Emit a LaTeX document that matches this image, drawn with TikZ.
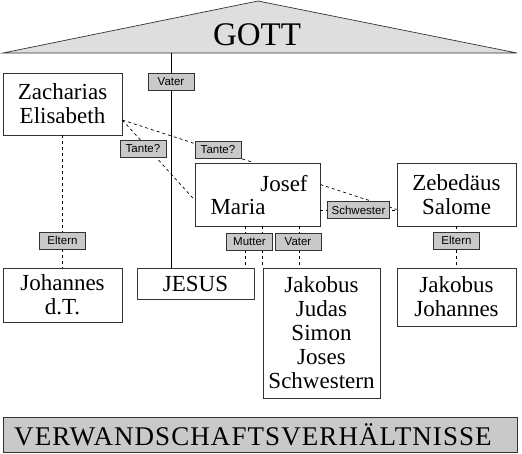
\documentclass[tikz,border=0pt]{standalone}
\usepackage{fontspec}
\setmainfont{Liberation Serif}
\setsansfont{Liberation Sans}
\usetikzlibrary{arrows}
\definecolor{dachgrau}{gray}{0.87}
\definecolor{etikettgrau}{gray}{0.79}
\tikzstyle{person}=[rectangle, draw=black!80, line width=0.8pt, fill=white, font=\fontsize{23}{24}\selectfont, align=center, inner sep=2pt]
\tikzstyle{relation}=[rectangle, draw=black!80, line width=0.8pt, fill=etikettgrau, font=\sffamily\fontsize{11.5}{12}\selectfont, minimum width=46pt, minimum height=17pt, inner xsep=4pt, inner ysep=1pt]
\tikzstyle{ahnung}=[dash pattern=on 3pt off 3pt, line width=0.7pt]
\begin{document}
\begin{tikzpicture}[x=1pt,y=-1pt]
  \useasboundingbox (0,0) rectangle (522,453);
  % Dach
  \coordinate (dachlinks) at (3,53);
  \coordinate (dachspitze) at (258,1);
  \coordinate (dachrechts) at (517,53);
  \coordinate (gottfuss) at (171,53);
  \filldraw[fill=dachgrau, draw=black!80, line width=0.7pt] (dachlinks) -- (dachspitze) -- (dachrechts) -- cycle;
  \node[anchor=base, font=\fontsize{33}{36}\selectfont] (gott) at (257,45) {GOTT};
  % Personen
  \node[person, minimum width=119pt, minimum height=62pt] (zacharias) at (62.5,104) {Zacharias\\Elisabeth};
  \node[person, minimum width=119pt, minimum height=54pt] (johannes) at (62.5,295) {Johannes\\d.T.};
  \node[person, minimum width=117pt, minimum height=31pt, text depth=-3pt] (jesus) at (195.5,283.5) {JESUS};
  \node[person, minimum width=125pt, minimum height=63pt] (josefmaria) at (257.5,194.5) {};
  \node[anchor=base, font=\fontsize{23}{24}\selectfont] (josef) at (284,191) {Josef};
  \node[anchor=base, font=\fontsize{23}{24}\selectfont] (maria) at (238,214) {Maria};
  \node[person, minimum width=119pt, minimum height=63pt] (zebedaeus) at (456.5,194.5) {Zebedäus\\Salome};
  \node[person, minimum width=117pt, minimum height=130pt] (brueder) at (321.5,333) {Jakobus\\Judas\\Simon\\Joses\\Schwestern};
  \node[person, minimum width=119pt, minimum height=58pt] (soehne) at (456.5,297) {Jakobus\\Johannes};
  \node[rectangle, draw=black!80, line width=0.8pt, fill=etikettgrau, minimum width=514pt, minimum height=35pt, font=\fontsize{27}{30}\selectfont] (titel) at (260,434.5) {\addfontfeature{LetterSpace=4}VERWANDSCHAFTSVERHÄLTNISSE\hspace*{14pt}};
  % Verbindungen
  \draw[line width=0.7pt] (gottfuss) -- (gottfuss |- jesus.north);
  \draw[ahnung] (zacharias.south) -- (johannes.north);
  \draw[ahnung] (zacharias.-15) -- ([xshift=-4pt]josefmaria.north);
  \draw[ahnung] (zacharias.-15) -- (josefmaria.185);
  \draw[ahnung] (josefmaria.9) -- (zebedaeus.194);
  \draw[ahnung] (josefmaria.-14) -- (josefmaria.-14 -| zebedaeus.west);
  \draw[ahnung] ([xshift=-12.5pt]josefmaria.south) -- ([xshift=-12.5pt]josefmaria.south |- jesus.north);
  \draw[ahnung] (brueder.north west |- josefmaria.south) -- (brueder.north west);
  \draw[ahnung] ([xshift=41.5pt]josefmaria.south) -- ([xshift=41.5pt]josefmaria.south |- brueder.north);
  \draw[ahnung] (zebedaeus.south) -- (soehne.north);
  % Beziehungen
  \node[relation] (vatergott) at (171,82) {Vater};
  \node[relation] (tanteeins) at (143,148.5) {Tante?};
  \node[relation] (tantezwei) at (218,150) {Tante?};
  \node[relation] (elterneins) at (62.5,240.5) {Eltern};
  \node[relation] (mutter) at (249.5,242) {Mutter};
  \node[relation] (vaterjosef) at (298,242) {Vater};
  \node[relation] (schwester) at (358.5,210) {Schwester};
  \node[relation] (elternzwei) at (456.5,240.5) {Eltern};
\end{tikzpicture}
\end{document}
